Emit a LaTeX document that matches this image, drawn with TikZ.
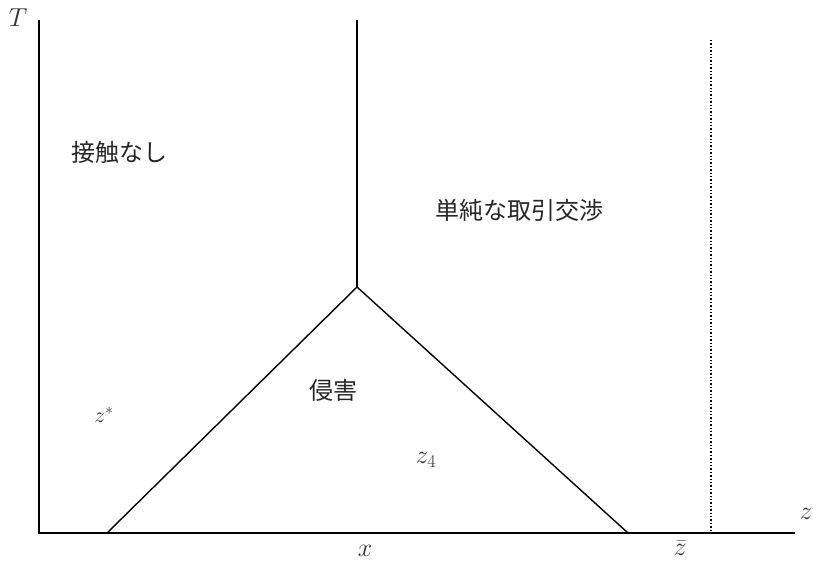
\RequirePackage{fix-cm}
\documentclass[tikz,border=0pt]{standalone}
\usepackage{fontspec}
\newfontfamily\cjk{Noto Sans CJK JP}
\begin{document}
\begin{tikzpicture}[x=1pt,y=-1pt,
  ln/.style={line width=1.4pt},
  jp/.style={font=\cjk\fontsize{24}{28}\selectfont, text=black!85},
  mth/.style={font=\fontsize{26}{30}\selectfont, text=black!80, inner sep=0pt},
  mths/.style={font=\fontsize{22}{26}\selectfont, text=black!80, inner sep=0pt}]
\useasboundingbox (0,0) rectangle (813,562);
\coordinate (o) at (39,533);
\coordinate (ytop) at (39,20);
\coordinate (xend) at (795,533);
\coordinate (ctop) at (357,20);
\coordinate (apex) at (357,287);
\coordinate (tl) at (107,533);
\coordinate (tr) at (628,533);
\coordinate (dtop) at (711,40);
\coordinate (dbot) at (711,533);
\draw[ln] (ytop) -- (o) -- (xend);
\draw[ln] (ctop) -- (apex);
\draw[ln] (tl) -- (apex) -- (tr);
\draw[line width=1.4pt, dotted] (dtop) -- (dbot);
\node[mth] (T) at (18,18) {$T$};
\node[jp] (a) at (119,152) {接触なし};
\node[jp] (b) at (519,210) {単純な取引交渉};
\node[jp] (c) at (333,390) {侵害};
\node[mths] (zs) at (104,415) {$z^*$};
\node[mth] (z4) at (426,460) {$z_4$};
\node[mth] (x) at (365,551) {$x$};
\node[mth] (zb) at (680,548) {$\bar z$};
\node[mth] (z) at (806,514) {$z$};
\end{tikzpicture}
\end{document}
